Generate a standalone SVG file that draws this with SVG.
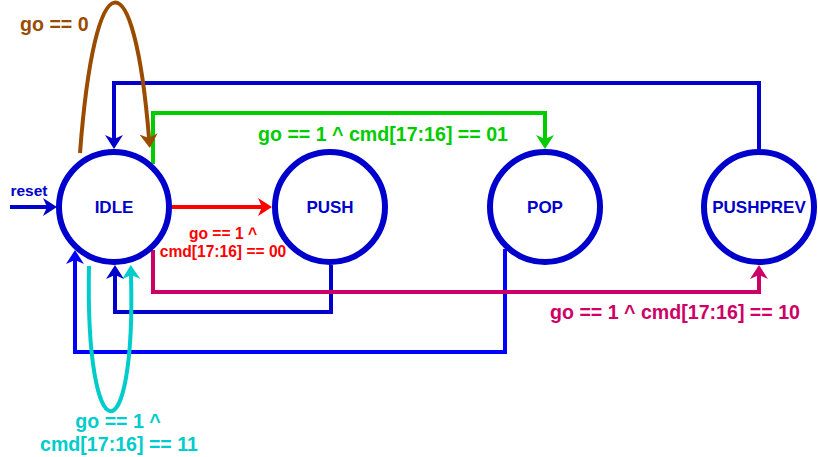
<svg xmlns="http://www.w3.org/2000/svg" width="818" height="457" viewBox="0 0 818 457">
<style>
.node circle{fill:#fff;stroke:#0000CC;stroke-width:6}
.node text{font-family:"Liberation Sans",Arial,sans-serif;font-weight:bold;font-size:17px;fill:#0000CC;text-anchor:middle}
.c{fill:none;stroke-width:4}
.lbl{font-family:"Liberation Sans",Arial,sans-serif;font-weight:bold;font-size:19.6px}
.sm{font-size:15.6px}
</style>
<defs>
<marker id="aB" viewBox="0 0 14 18" refX="4" refY="9" markerWidth="14" markerHeight="18" markerUnits="userSpaceOnUse" orient="auto"><path d="M0,0 L14,9 L0,18 L4,9 Z" fill="#0000CC"/></marker>
<marker id="aB2" viewBox="0 0 14 18" refX="4" refY="9" markerWidth="14" markerHeight="18" markerUnits="userSpaceOnUse" orient="auto"><path d="M0,0 L14,9 L0,18 L4,9 Z" fill="#0000FF"/></marker>
<marker id="aR" viewBox="0 0 14 18" refX="4" refY="9" markerWidth="14" markerHeight="18" markerUnits="userSpaceOnUse" orient="auto"><path d="M0,0 L14,9 L0,18 L4,9 Z" fill="#FF0000"/></marker>
<marker id="aG" viewBox="0 0 14 18" refX="4" refY="9" markerWidth="14" markerHeight="18" markerUnits="userSpaceOnUse" orient="auto"><path d="M0,0 L14,9 L0,18 L4,9 Z" fill="#00CC00"/></marker>
<marker id="aM" viewBox="0 0 14 18" refX="4" refY="9" markerWidth="14" markerHeight="18" markerUnits="userSpaceOnUse" orient="auto"><path d="M0,0 L14,9 L0,18 L4,9 Z" fill="#CC0066"/></marker>
<marker id="aC" viewBox="0 0 14 18" refX="4" refY="9" markerWidth="14" markerHeight="18" markerUnits="userSpaceOnUse" orient="auto"><path d="M0,0 L14,9 L0,18 L4,9 Z" fill="#00CCCC"/></marker>
<marker id="aBr" viewBox="0 0 14 18" refX="4" refY="9" markerWidth="14" markerHeight="18" markerUnits="userSpaceOnUse" orient="auto"><path d="M0,0 L14,9 L0,18 L4,9 Z" fill="#994C00"/></marker>
</defs>
<g id="connectors">
<path id="e-pushprev-idle" class="c" stroke="#0000CC" d="M759,152 V83 H114 V139" marker-end="url(#aB)"/>
<path id="e-push-idle" class="c" stroke="#0000CC" d="M331,265 V312 H115 V275" marker-end="url(#aB)"/>
<path id="e-pop-idle" class="c" stroke="#0000FF" d="M505,249 V352 H75 V260" marker-end="url(#aB2)"/>
<path id="e-reset" class="c" stroke="#0000CC" d="M10,207 H47" marker-end="url(#aB)"/>
<path id="e-idle-push" class="c" stroke="#FF0000" d="M172,207 H262" marker-end="url(#aR)"/>
<path id="e-idle-pop" class="c" stroke="#00CC00" d="M153,164 V113 H545 V139" marker-end="url(#aG)"/>
<path id="e-idle-pushprev" class="c" stroke="#CC0066" d="M153,250 V292 H759 V275" marker-end="url(#aM)"/>
<path id="e-idle-self0" class="c" stroke="#994C00" d="M80,153 C95,-45 134,-45 149,138" marker-end="url(#aBr)"/>
<path id="e-idle-self11" class="c" stroke="#00CCCC" d="M89,266 C85,458 136,458 131,275" marker-end="url(#aC)"/>
<text class="lbl sm" x="29" y="196" fill="#0000CC" text-anchor="middle" style="font-size:15.5px">reset</text>
<text class="lbl" x="20" y="31" fill="#994C00">go == 0</text>
<text class="lbl" x="383" y="141" fill="#00CC00" text-anchor="middle">go == 1 ^ cmd[17:16] == 01</text>
<text class="lbl sm" x="223" y="239" fill="#FF0000" text-anchor="middle">go == 1 ^</text>
<text class="lbl sm" x="223" y="257" fill="#FF0000" text-anchor="middle">cmd[17:16] == 00</text>
<text class="lbl" x="675" y="319" fill="#CC0066" text-anchor="middle">go == 1 ^ cmd[17:16] == 10</text>
<text class="lbl" x="118" y="428" fill="#00CCCC" text-anchor="middle">go == 1 ^</text>
<text class="lbl" x="119" y="451" fill="#00CCCC" text-anchor="middle">cmd[17:16] == 11</text>
</g>
<g id="IDLE" class="node"><circle cx="114" cy="207" r="55"/><text x="114" y="213">IDLE</text></g>
<g id="PUSH" class="node"><circle cx="330" cy="207" r="55"/><text x="330" y="213">PUSH</text></g>
<g id="POP" class="node"><circle cx="545" cy="207" r="55"/><text x="545" y="213">POP</text></g>
<g id="PUSHPREV" class="node"><circle cx="759" cy="207" r="55"/><text x="759" y="213">PUSHPREV</text></g>
</svg>
